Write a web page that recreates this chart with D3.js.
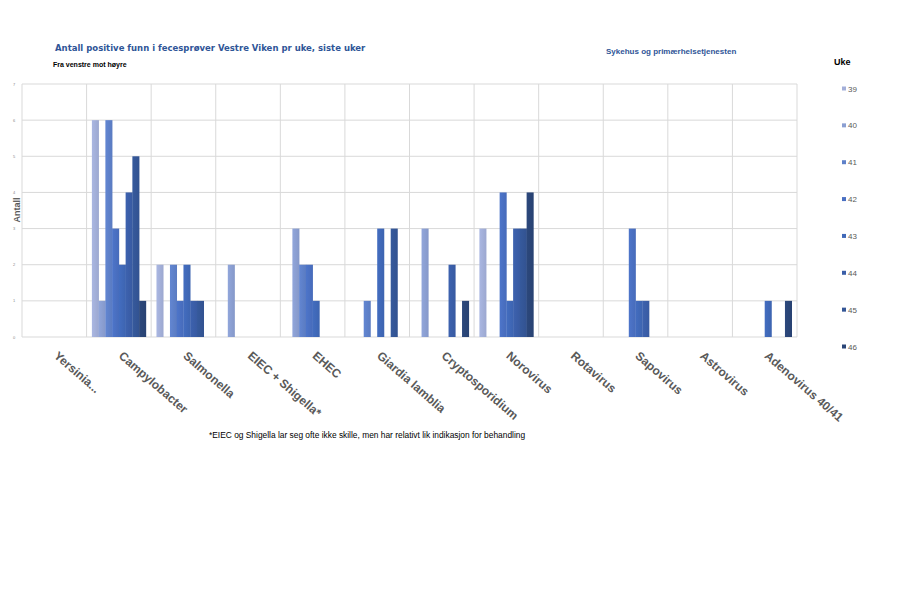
<!DOCTYPE html>
<html><head><meta charset="utf-8">
<script src="https://cdn.jsdelivr.net/npm/d3@7"></script>
<style>body{margin:0;background:#fff}svg{display:block}</style>
</head><body>
<svg id="c" width="900" height="600"></svg>
<script>
const categories = ["Yersinia...","Campylobacter","Salmonella","EIEC + Shigella*","EHEC","Giardia lamblia","Cryptosporidium","Norovirus","Rotavirus","Sapovirus","Astrovirus","Adenovirus 40/41"];
const weeks = ["39","40","41","42","43","44","45","46"];
const w39 = [0,6,2,0,0,0,0,3,0,0,0,0];
const w40 = [0,1,0,2,3,0,3,0,0,0,0,0];
const w41 = [0,6,2,0,2,1,0,0,0,0,0,0];
const w42 = [0,3,1,0,2,0,0,4,0,3,0,0];
const w43 = [0,2,2,0,1,3,0,1,0,1,0,1];
const w44 = [0,4,1,0,0,0,2,3,0,1,0,0];
const w45 = [0,5,1,0,0,3,0,3,0,0,0,0];
const w46 = [0,1,0,0,0,0,1,4,0,0,0,1];
const series = [w39,w40,w41,w42,w43,w44,w45,w46];
const colors = ["#a3afd9","#8b9fd2","#5e80c9","#4a70c2","#4068b8","#3a5ea8","#345696","#2a4577"];
const yTicks = [0,1,2,3,4,5,6,7];

const svg = d3.select("#c");
const L=22, R=797, T=84, B=337;
const x0 = d3.scaleBand().domain(categories).range([L,R]).paddingInner(0).paddingOuter(0);
const x1 = d3.scaleBand().domain(weeks).range([5.3, x0.bandwidth()-5.3]);
const y = d3.scaleLinear().domain([0,7]).range([B,T]);

// gridlines
const g = svg.append("g");
g.selectAll(".hg").data(yTicks).enter().append("line")
  .attr("x1",L).attr("x2",R).attr("y1",d=>y(d)).attr("y2",d=>y(d))
  .attr("stroke","#d9d9d9").attr("stroke-width",1);
const vlines = categories.map(c=>x0(c)).concat([R]);
g.selectAll(".vg").data(vlines).enter().append("line")
  .attr("x1",d=>d).attr("x2",d=>d).attr("y1",T).attr("y2",B)
  .attr("stroke","#d9d9d9").attr("stroke-width",1);

// y tick labels
svg.append("g").selectAll("text").data(yTicks).enter().append("text")
  .attr("x",14).attr("y",d=>y(d)+1.5).attr("text-anchor","middle")
  .attr("font-family","Liberation Sans, sans-serif").attr("font-size",4).attr("fill","#888")
  .text(d=>d);

// bars
const defs = svg.append("defs");
colors.forEach((c,i)=>{
  const lg = defs.append("linearGradient").attr("id","gr"+i).attr("x1","0").attr("x2","1").attr("y1","0").attr("y2","0");
  lg.append("stop").attr("offset","0").attr("stop-color",d3.color(c).brighter(0.12));
  lg.append("stop").attr("offset","1").attr("stop-color",d3.color(c).darker(0.12));
});
series.forEach((s,i)=>{
  svg.append("g").selectAll("rect").data(s.map((v,j)=>({v,c:categories[j]})).filter(d=>d.v>0))
    .enter().append("rect")
    .attr("x",d=>x0(d.c)+x1(weeks[i])).attr("width",x1.bandwidth()+0.3)
    .attr("y",d=>y(d.v)).attr("height",d=>y(0)-y(d.v))
    .attr("fill","url(#gr"+i+")");
});

// x labels
svg.append("g").selectAll("text").data(categories).enter().append("text")
  .attr("transform",d=>`translate(${x0(d)+x0.bandwidth()/2-1},${357}) rotate(41)`)
  .attr("font-family","Liberation Sans, Arial, sans-serif").attr("font-weight","bold")
  .attr("font-size",12).attr("fill","#595959").text(d=>d);

// y axis title
svg.append("text").attr("transform","translate(20,210) rotate(-90)").attr("text-anchor","middle")
  .attr("font-family","Liberation Sans, sans-serif").attr("font-weight","bold").attr("font-size",9).attr("fill","#595959").text("Antall");

// titles
svg.append("text").attr("x",55).attr("y",51).attr("font-family","DejaVu Sans, sans-serif").attr("font-weight","bold")
  .attr("font-size",8.5).attr("fill","#2f5597").text("Antall positive funn i fecesprøver Vestre Viken pr uke, siste uker");
svg.append("text").attr("x",53).attr("y",67).attr("font-family","Liberation Sans, sans-serif").attr("font-weight","bold")
  .attr("font-size",7).attr("fill","#000").text("Fra venstre mot høyre");
svg.append("text").attr("x",606).attr("y",54).attr("font-family","Liberation Sans, sans-serif").attr("font-weight","bold")
  .attr("font-size",8).attr("fill","#2f5597").text("Sykehus og primærhelsetjenesten");

// legend
svg.append("text").attr("x",834).attr("y",65).attr("font-family","Liberation Sans, sans-serif").attr("font-weight","bold")
  .attr("font-size",9).attr("fill","#000").text("Uke");
const lgY = d3.scalePoint().domain(weeks).range([89,347]);
const leg = svg.append("g").selectAll("g").data(weeks).enter().append("g")
  .attr("transform",d=>`translate(842,${lgY(d)})`);
leg.append("rect").attr("x",0).attr("y",-2.5).attr("width",4).attr("height",4).attr("fill",(d,i)=>colors[i]);
leg.append("text").attr("x",6).attr("y",2.5).attr("font-family","Liberation Sans, sans-serif").attr("font-size",8)
  .attr("fill","#595959").text(d=>d);

// footnote
svg.append("text").attr("x",209).attr("y",438).attr("font-family","Liberation Sans, sans-serif").attr("font-size",8.4)
  .attr("fill","#000").text("*EIEC og Shigella lar seg ofte ikke skille, men har relativt lik indikasjon for behandling");
</script>
</body></html>
